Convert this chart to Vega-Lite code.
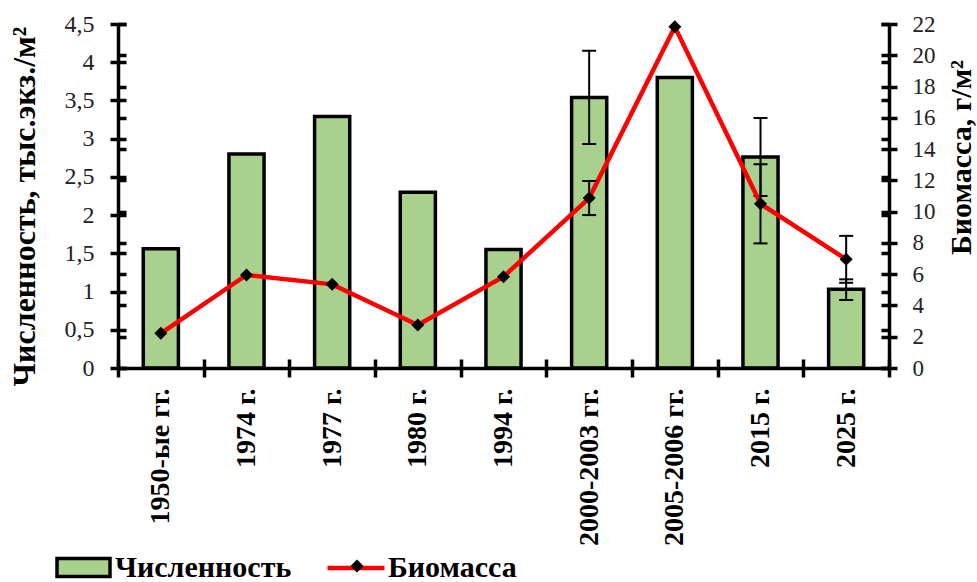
{
  "$schema": "https://vega.github.io/schema/vega-lite/v6.json",
  "width": 771,
  "height": 344,
  "autosize": {"type": "none"},
  "padding": {"left": 118, "top": 24, "right": 88, "bottom": 214},
  "background": "white",
  "config": {"view": {"stroke": null}, "font": "Liberation Serif"},
  "data": {
    "values": [
      {"period": "1950-ые гг.", "n": 1.56, "b": 2.22},
      {"period": "1974 г.", "n": 2.8, "b": 5.95},
      {"period": "1977 г.", "n": 3.29, "b": 5.35},
      {"period": "1980 г.", "n": 2.3, "b": 2.75},
      {"period": "1994 г.", "n": 1.55, "b": 5.84},
      {"period": "2000-2003 гг.", "n": 3.54, "n_lo": 2.93, "n_hi": 4.15, "b": 10.87, "b_lo": 9.78, "b_hi": 11.96},
      {"period": "2005-2006 гг.", "n": 3.8, "b": 21.82},
      {"period": "2015 г.", "n": 2.76, "n_lo": 2.25, "n_hi": 3.27, "b": 10.5, "b_lo": 7.97, "b_hi": 13.03},
      {"period": "2025 г.", "n": 1.03, "n_lo": 0.89, "n_hi": 1.16, "b": 6.95, "b_lo": 5.45, "b_hi": 8.45}
    ]
  },
  "encoding": {
    "x": {
      "field": "period",
      "type": "nominal",
      "sort": null,
      "scale": {"paddingInner": 0, "paddingOuter": 0},
      "axis": {
        "title": null,
        "domainColor": "black",
        "domainWidth": 3.5,
        "tickColor": "black",
        "tickWidth": 3.5,
        "tickSize": 9,
        "tickBand": "extent",
        "grid": true,
        "gridColor": "black",
        "gridWidth": 3.5,
        "gridDash": [0, 335, 9, 100],
        "labelAngle": -90,
        "labelFont": "Liberation Serif",
        "labelFontWeight": "bold",
        "labelFontSize": 28,
        "labelColor": "black",
        "labelPadding": 11,
        "zindex": 1
      }
    }
  },
  "layer": [
    {
      "encoding": {
        "y": {
          "field": "n",
          "type": "quantitative",
          "scale": {"domain": [0, 4.5], "nice": false},
          "axis": {
            "orient": "left",
            "title": "Численность, тыс.экз./м²",
            "titleFont": "Liberation Serif",
            "titleFontWeight": "bold",
            "titleFontSize": 32,
            "titleColor": "black",
            "titleAngle": -90,
            "titleX": -94,
            "titleY": 182,
            "titleAlign": "center",
            "titleBaseline": "middle",
            "values": [0, 0.5, 1, 1.5, 2, 2.5, 3, 3.5, 4, 4.5],
            "labelExpr": "replace(toString(datum.value), '.', ',')",
            "labelFont": "Liberation Serif",
            "labelFontSize": 24,
            "labelColor": "#222222",
            "labelPadding": 16,
            "domainColor": "black",
            "domainWidth": 3.5,
            "tickColor": "black",
            "tickWidth": 3.5,
            "tickSize": 8,
            "grid": true,
            "gridColor": "black",
            "gridWidth": 3.5,
            "gridDash": [8, 755, 8, 100],
            "zindex": 1
          }
        }
      },
      "layer": [
        {
          "mark": {"type": "bar", "stroke": "black", "strokeWidth": 3.5, "width": {"band": 0.41}},
          "encoding": {
            "fill": {
              "datum": "Численность",
              "type": "nominal",
              "scale": {"range": ["#a9d18e"]},
              "legend": {
                "title": null,
                "orient": "none",
                "legendX": -63,
                "legendY": 515,
                "padding": 0,
                "symbolType": "M-1,-0.34H1V0.34H-1Z",
                "symbolSize": 2809,
                "symbolStrokeColor": "black",
                "symbolStrokeWidth": 3.5,
                "symbolOpacity": 1,
                "labelFont": "Liberation Serif",
                "labelFontWeight": "bold",
                "labelFontSize": 30,
                "labelColor": "black",
                "labelOffset": 3,
                "labelLimit": 400
              }
            }
          }
        },
        {
          "mark": {"type": "rule", "stroke": "black", "strokeWidth": 2},
          "encoding": {
            "y": {"field": "n_lo", "type": "quantitative"},
            "y2": {"field": "n_hi"}
          }
        },
        {
          "mark": {"type": "tick", "color": "black", "thickness": 2, "size": 14, "opacity": 1},
          "encoding": {"y": {"field": "n_lo", "type": "quantitative"}}
        },
        {
          "mark": {"type": "tick", "color": "black", "thickness": 2, "size": 14, "opacity": 1},
          "encoding": {"y": {"field": "n_hi", "type": "quantitative"}}
        }
      ]
    },
    {
      "encoding": {
        "y": {
          "field": "b",
          "type": "quantitative",
          "scale": {"domain": [0, 22], "nice": false},
          "axis": {
            "orient": "right",
            "title": "Биомасса, г/м²",
            "titleFont": "Liberation Serif",
            "titleFontWeight": "bold",
            "titleFontSize": 30,
            "titleColor": "black",
            "titleAngle": -90,
            "titleX": 72,
            "titleY": 133,
            "titleAlign": "center",
            "titleBaseline": "middle",
            "values": [0, 2, 4, 6, 8, 10, 12, 14, 16, 18, 20, 22],
            "labelFont": "Liberation Serif",
            "labelFontSize": 23,
            "labelColor": "#222222",
            "labelPadding": 15,
            "domainColor": "black",
            "domainWidth": 3.5,
            "tickColor": "black",
            "tickWidth": 3.5,
            "tickSize": 8,
            "grid": true,
            "gridColor": "black",
            "gridWidth": 3.5,
            "gridDash": [8, 755, 8, 100],
            "zindex": 1
          }
        }
      },
      "layer": [
        {
          "mark": {"type": "line", "strokeWidth": 4.5},
          "encoding": {
            "stroke": {
              "datum": "Биомасса",
              "type": "nominal",
              "scale": {"range": ["#ff0000"]},
              "legend": {
                "title": null,
                "orient": "none",
                "legendX": 207,
                "legendY": 513,
                "padding": 0,
                "symbolType": "stroke",
                "symbolSize": 3249,
                "symbolStrokeWidth": 4.5,
                "labelFont": "Liberation Serif",
                "labelFontWeight": "bold",
                "labelFontSize": 30,
                "labelColor": "black",
                "labelOffset": 1,
                "labelLimit": 400
              }
            }
          }
        },
        {
          "mark": {"type": "point", "filled": true, "color": "black", "size": 170, "opacity": 1},
          "encoding": {
            "shape": {
              "datum": "marker",
              "type": "nominal",
              "scale": {"range": ["diamond"]},
              "legend": {
                "title": null,
                "orient": "none",
                "legendX": 224,
                "legendY": 527,
                "padding": 0,
                "symbolSize": 170,
                "symbolFillColor": "black",
                "symbolStrokeColor": "black",
                "symbolStrokeWidth": 0,
                "symbolOpacity": 1,
                "labelFontSize": 30,
                "labelExpr": "''"
              }
            }
          }
        },
        {
          "mark": {"type": "rule", "stroke": "black", "strokeWidth": 2},
          "encoding": {
            "y": {"field": "b_lo", "type": "quantitative"},
            "y2": {"field": "b_hi"}
          }
        },
        {
          "mark": {"type": "tick", "color": "black", "thickness": 2, "size": 14, "opacity": 1},
          "encoding": {"y": {"field": "b_lo", "type": "quantitative"}}
        },
        {
          "mark": {"type": "tick", "color": "black", "thickness": 2, "size": 14, "opacity": 1},
          "encoding": {"y": {"field": "b_hi", "type": "quantitative"}}
        }
      ]
    }
  ],
  "resolve": {"scale": {"y": "independent"}}
}
